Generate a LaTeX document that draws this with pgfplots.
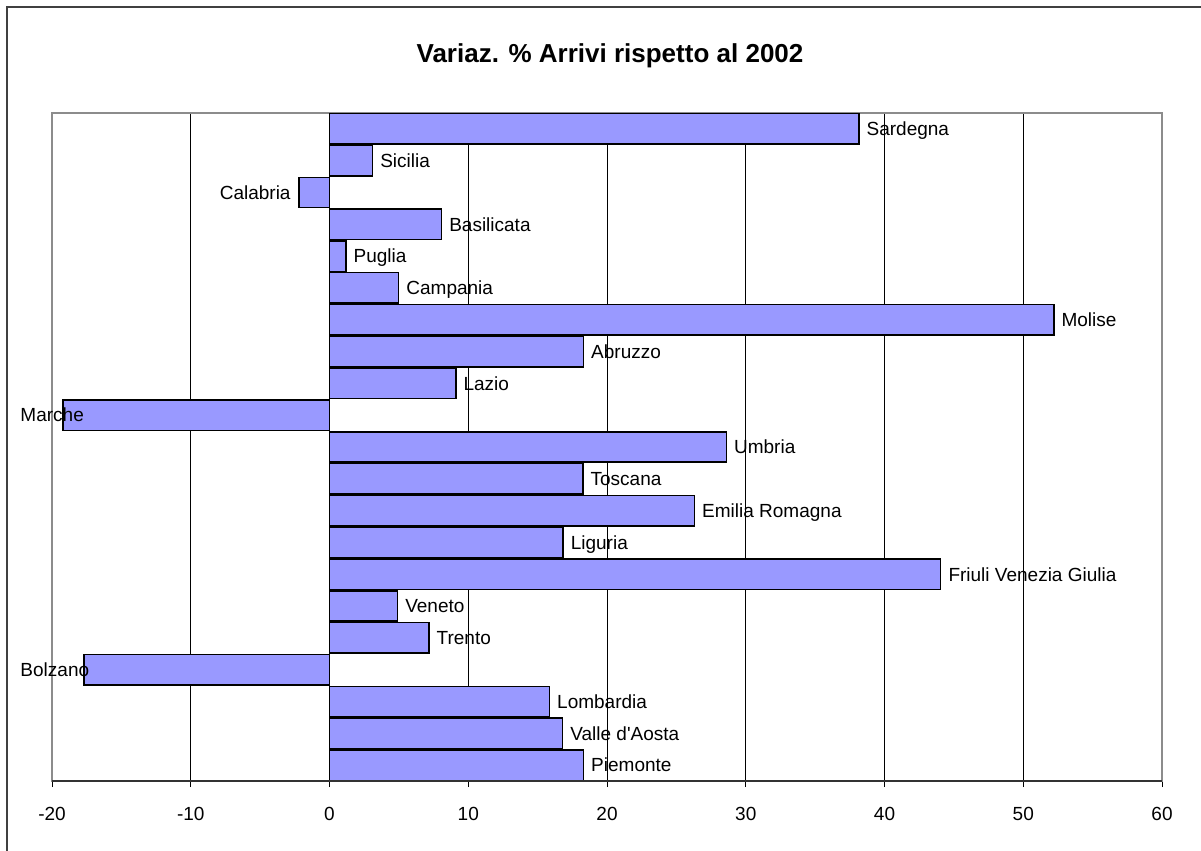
\documentclass[border=0pt]{standalone}
\usepackage{pgfplots}
\pgfplotsset{compat=1.18}
\usepackage{pgfplotstable}
\usepackage{fontspec}
\setmainfont{Liberation Sans}
\definecolor{barblue}{HTML}{9999FF}
\tikzset{label node/.style={font=\fontsize{9.5bp}{11bp}\selectfont, inner sep=0pt,
    text height=6.8bp, text depth=0pt}}

% pos 0 = bottom bar (Piemonte), 20 = top bar (Sardegna)
\pgfplotstableread{
pos val name
0 18.3 Piemonte
1 16.8 {Valle d\textquotesingle Aosta}
2 15.85 Lombardia
3 -17.7 Bolzano
4 7.16 Trento
5 4.9 Veneto
6 44.05 {Friuli Venezia Giulia}
7 16.83 Liguria
8 26.3 {Emilia Romagna}
9 18.26 Toscana
10 28.6 Umbria
11 -19.2 Marche
12 9.1 Lazio
13 18.3 Abruzzo
14 52.2 Molise
15 4.98 Campania
16 1.18 Puglia
17 8.07 Basilicata
18 -2.2 Calabria
19 3.1 Sicilia
20 38.15 Sardegna
}\bars

% labels pushed back inside the chart area
\pgfplotstableread{
pos val name
3 -22.3 Bolzano
11 -22.3 Marche
}\clamped

\begin{document}
\begin{tikzpicture}
\useasboundingbox (0,0) rectangle (600.5bp,425.5bp);
\draw[line width=1bp, black!75] (3.5bp,0) -- (3.5bp,422bp) -- (600.5bp,422bp);
\begin{axis}[
    at={(26bp,35bp)}, anchor=south west,
    scale only axis, width=555bp, height=334bp,
    xmin=-20, xmax=60, ymin=-0.5, ymax=20.5,
    xtick={-20,-10,0,10,20,30,40,50,60},
    xticklabels={-20,-10,0,10,20,30,40,50,60},
    ytick=\empty,
    xmajorgrids, major grid style={black, line width=0.5bp},
    tick align=outside, xtick pos=bottom, major tick length=3bp,
    tick style={black, line width=0.5bp},
    xticklabel style={font=\fontsize{9.5bp}{11bp}\selectfont, inner sep=0pt,
        text height=6.8bp, text depth=0pt, anchor=north, yshift=-9.5bp},
    axis line style={draw=black!45, line width=0.8bp},
    title={Variaz. \% Arrivi rispetto al 2002},
    title style={font=\fontsize{13bp}{15bp}\selectfont\bfseries, inner sep=0pt,
        text height=9.3bp, text depth=0pt, at={(0.5,1)}, anchor=center,
        yshift=24bp, xshift=1.5bp},
    clip=false,
    after end axis/.code={
        \draw[black!80, line width=1bp] (rel axis cs:0,0) -- (rel axis cs:1,0);
    },
]
\addplot[xbar, bar width=15.2bp, bar shift=0pt, fill=barblue, draw=black,
    line width=0.75bp] table[x=val, y=pos] {\bars};

% category names beside the bar ends
\addplot[only marks, mark=none, restrict x to domain=0:100,
    nodes near coords, point meta=explicit symbolic,
    nodes near coords style={label node, anchor=west, xshift=3.7bp}]
    table[x=val, y=pos, meta=name] {\bars};
\addplot[only marks, mark=none, restrict x to domain=-5:0,
    nodes near coords, point meta=explicit symbolic,
    nodes near coords style={label node, anchor=east, xshift=-4bp}]
    table[x=val, y=pos, meta=name] {\bars};
\addplot[only marks, mark=none,
    nodes near coords, point meta=explicit symbolic,
    nodes near coords style={label node, anchor=west}]
    table[x=val, y=pos, meta=name] {\clamped};
\end{axis}
\end{tikzpicture}
\end{document}
